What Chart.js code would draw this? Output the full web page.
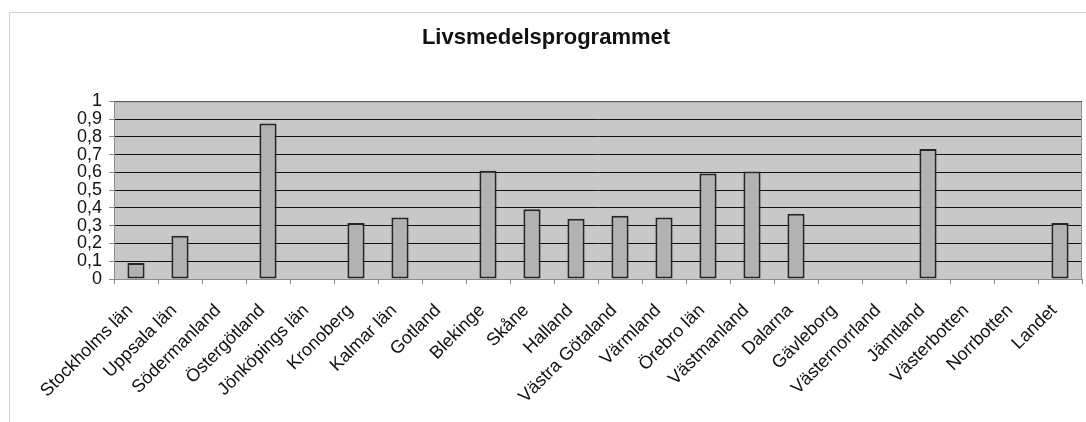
<!DOCTYPE html>
<html>
<head>
<meta charset="utf-8">
<script src="https://cdn.jsdelivr.net/npm/chart.js@4/dist/chart.umd.min.js"></script>
<style>
  html, body { margin: 0; padding: 0; background: #fff; overflow: hidden; }
  #frame {
    position: absolute; left: 9px; top: 12px;
    width: 1090px; height: 410px;
    border-left: 1px solid #d4d4d4; border-top: 1px solid #d4d4d4;
  }
</style>
</head>
<body>
<div id="frame"><canvas id="c" width="1090" height="409"></canvas></div>
<script>
const titleText = 'Livsmedelsprogrammet';
const regions = ['Stockholms län', 'Uppsala län', 'Södermanland', 'Östergötland', 'Jönköpings län',
  'Kronoberg', 'Kalmar län', 'Gotland', 'Blekinge', 'Skåne', 'Halland', 'Västra Götaland',
  'Värmland', 'Örebro län', 'Västmanland', 'Dalarna', 'Gävleborg', 'Västernorrland',
  'Jämtland', 'Västerbotten', 'Norrbotten', 'Landet'];
const values = [0.09, 0.243, 0, 0.876, 0, 0.316, 0.346, 0, 0.61, 0.393, 0.339, 0.356,
  0.346, 0.594, 0.605, 0.367, 0, 0, 0.732, 0, 0, 0.316];
const yTicks = [0, 0.1, 0.2, 0.3, 0.4, 0.5, 0.6, 0.7, 0.8, 0.9, 1];

// grey plot background + border
const plotBg = {
  id: 'plotBg',
  beforeDraw(chart) {
    const a = chart.chartArea, ctx = chart.ctx;
    ctx.save();
    ctx.fillStyle = '#c8c8c9';
    ctx.fillRect(a.left, a.top, a.right - a.left, a.bottom - a.top);
    ctx.restore();
  },
  afterDraw(chart) {
    const a = chart.chartArea, ctx = chart.ctx;
    ctx.save();
    ctx.strokeStyle = '#8c8c8c';
    ctx.lineWidth = 1;
    ctx.strokeRect(a.left + 0.5, a.top + 0.5, a.right - a.left - 1, a.bottom - a.top);
    ctx.restore();
  }
};

new Chart(document.getElementById('c'), {
  type: 'bar',
  data: {
    labels: regions,
    datasets: [{
      data: values,
      backgroundColor: '#b2b2b4',
      borderColor: '#262626',
      borderWidth: 2,
      borderSkipped: false,
      barPercentage: 0.39,
      categoryPercentage: 1
    }]
  },
  plugins: [plotBg],
  options: {
    responsive: false,
    animation: false,
    layout: { padding: { left: 0, right: 18, top: 0, bottom: 0 } },
    plugins: {
      legend: { display: false },
      tooltip: { enabled: false },
      title: {
        display: true,
        text: titleText,
        color: '#111',
        font: { family: 'Liberation Sans', size: 22, weight: 'bold' },
        padding: { top: 12, bottom: 50 }
      }
    },
    scales: {
      x: {
        grid: { display: true, offset: true, drawOnChartArea: false, tickLength: 5, color: '#8c8c8c' },
        border: { display: true, color: '#8c8c8c' },
        ticks: {
          color: '#111',
          font: { family: 'Liberation Sans', size: 18 },
          minRotation: 45, maxRotation: 45, autoSkip: false, padding: 16, labelOffset: -6
        },
        afterFit(s) { s.height = 143; }
      },
      y: {
        min: 0, max: 1,
        afterBuildTicks(s) { s.ticks = yTicks.map(v => ({ value: v })); },
        grid: { color: '#111', tickColor: '#8c8c8c', tickLength: 5, lineWidth: 1 },
        border: { display: true, color: '#8c8c8c' },
        ticks: {
          color: '#111',
          font: { family: 'Liberation Sans', size: 18 },
          padding: 7,
          autoSkip: false,
          callback: v => String(Math.round(v * 10) / 10).replace('.', ',')
        },
        afterFit(s) { s.width = 104; }
      }
    }
  }
});
</script>
</body>
</html>
